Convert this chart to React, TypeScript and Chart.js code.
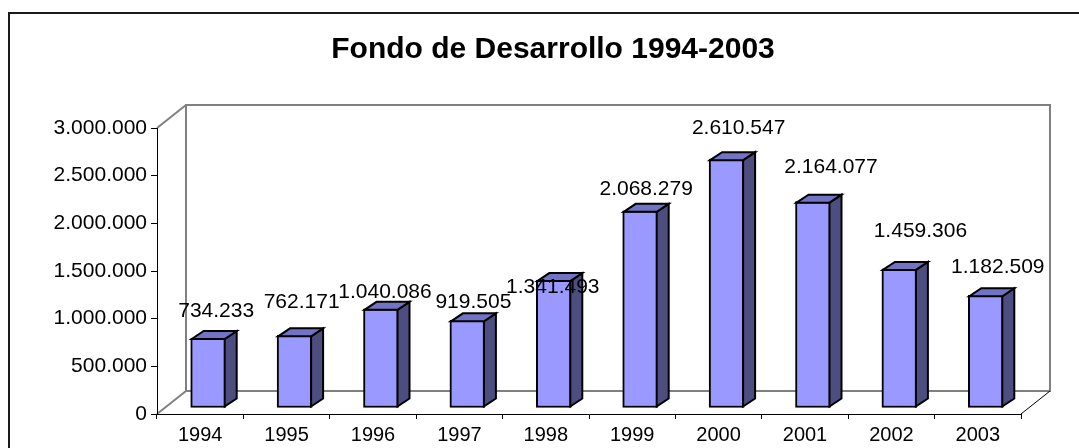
import React, { useEffect, useRef } from 'react';
import { Chart, registerables } from 'chart.js';

Chart.register(...registerables);

// ---- data ----
const categories = ['1994', '1995', '1996', '1997', '1998', '1999', '2000', '2001', '2002', '2003'];
const values = [734233, 762171, 1040086, 919505, 1341493, 2068279, 2610547, 2164077, 1459306, 1182509];
const yMin = 0;
const yMax = 3000000;
const yStep = 500000;
const chartTitle = 'Fondo de Desarrollo 1994-2003';

// ---- label nudges (layout only) ----
const labelNudgeX = [2, 1, -2, 0, -7, 0, 6, 12, 15, 6];
const labelNudgeY = [-19, -25, -9, -10, 15, -14, -23, -26, -30, -20];

// ---- styles ----
const FONT = "'Liberation Sans', Arial, Helvetica, sans-serif";
const WALL_DX = 29;
const WALL_DY = -23;
const BAR_DX = 8;
const BAR_DY = -6;
const DEPTH_DX = 12;
const DEPTH_DY = -8;
const FRONT = '#9999FF';
const SIDE = '#4D4D80';
const TOP = '#7373C6';
const TITLE_CX = 553;
const TITLE_CY = 50;

const fmt = (v: number) => Math.round(v).toString().replace(/\B(?=(\d{3})+(?!\d))/g, '.');

const threeD = {
  id: 'threeD',
  beforeDraw(chart: any) {
    const { ctx, chartArea: a } = chart;
    ctx.save();
    // outer frame
    ctx.strokeStyle = '#1a1a1a';
    ctx.lineWidth = 2;
    ctx.strokeRect(9, 13, 1300, 700);
    // title
    ctx.fillStyle = '#000';
    ctx.font = `bold 30px ${FONT}`;
    ctx.textAlign = 'center';
    ctx.textBaseline = 'middle';
    ctx.fillText(chartTitle, TITLE_CX, TITLE_CY);
    // back wall
    ctx.strokeStyle = '#808080';
    ctx.lineWidth = 2;
    ctx.strokeRect(a.left + WALL_DX, a.top + WALL_DY, a.right - a.left, a.bottom - a.top);
    // left wall top edge
    ctx.beginPath();
    ctx.moveTo(a.left, a.top);
    ctx.lineTo(a.left + WALL_DX, a.top + WALL_DY);
    ctx.stroke();
    // left floor edge
    ctx.beginPath();
    ctx.moveTo(a.left, a.bottom);
    ctx.lineTo(a.left + WALL_DX, a.bottom + WALL_DY);
    ctx.stroke();
    // right floor edge
    ctx.strokeStyle = '#000';
    ctx.lineWidth = 1;
    ctx.beginPath();
    ctx.moveTo(a.right, a.bottom);
    ctx.lineTo(a.right + WALL_DX, a.bottom + WALL_DY);
    ctx.stroke();
    ctx.restore();
  },
  beforeDatasetsDraw(chart: any) {
    chart.ctx.save();
    chart.ctx.translate(BAR_DX, BAR_DY);
  },
  afterDatasetsDraw(chart: any) {
    const ctx = chart.ctx;
    const meta = chart.getDatasetMeta(0);
    ctx.lineWidth = 2;
    ctx.lineJoin = 'miter';
    ctx.strokeStyle = '#000';
    meta.data.forEach((bar: any) => {
      const { x, y, base, width } = bar.getProps(['x', 'y', 'base', 'width'], true);
      const l = x - width / 2 + 1;
      const r = x + width / 2 - 1;
      const t = y + 1;
      const b = base - 1;
      // side face
      ctx.beginPath();
      ctx.moveTo(r, t);
      ctx.lineTo(r + DEPTH_DX, t + DEPTH_DY);
      ctx.lineTo(r + DEPTH_DX, b + DEPTH_DY);
      ctx.lineTo(r, b);
      ctx.closePath();
      ctx.fillStyle = SIDE;
      ctx.fill();
      ctx.stroke();
      // top face
      ctx.beginPath();
      ctx.moveTo(l, t);
      ctx.lineTo(l + DEPTH_DX, t + DEPTH_DY);
      ctx.lineTo(r + DEPTH_DX, t + DEPTH_DY);
      ctx.lineTo(r, t);
      ctx.closePath();
      ctx.fillStyle = TOP;
      ctx.fill();
      ctx.stroke();
    });
    ctx.restore();

    // value labels
    ctx.save();
    ctx.font = `21px ${FONT}`;
    ctx.fillStyle = '#000';
    ctx.textAlign = 'center';
    ctx.textBaseline = 'middle';
    meta.data.forEach((bar: any, i: number) => {
      const { x, y } = bar.getProps(['x', 'y'], true);
      ctx.fillText(
        fmt(values[i]),
        x + BAR_DX + DEPTH_DX / 2 + labelNudgeX[i],
        y + BAR_DY + DEPTH_DY + labelNudgeY[i]
      );
    });
    ctx.restore();
  },
};

export default function App() {
  const ref = useRef<HTMLCanvasElement | null>(null);

  useEffect(() => {
    if (!ref.current) return;
    const chart = new Chart(ref.current, {
      type: 'bar',
      data: {
        labels: categories,
        datasets: [
          {
            data: values,
            backgroundColor: FRONT,
            borderColor: '#000',
            borderWidth: 2,
            borderSkipped: false,
            barThickness: 35,
            clip: false,
          } as any,
        ],
      },
      options: {
        responsive: false,
        animation: false,
        devicePixelRatio: 1,
        layout: { padding: { left: 0, right: 58, top: 128, bottom: 0 } },
        plugins: {
          legend: { display: false },
          tooltip: { enabled: false },
          title: { display: false },
        },
        scales: {
          x: {
            type: 'category',
            offset: true,
            grid: { offset: true, drawOnChartArea: false, drawTicks: true, tickLength: 5, color: '#000' },
            border: { display: true, color: '#000', width: 1 },
            ticks: { color: '#000', font: { family: FONT, size: 20 }, padding: 4, maxRotation: 0, autoSkip: false },
            afterFit: (s: any) => {
              s.height = 34;
            },
          },
          y: {
            min: yMin,
            max: yMax,
            grid: { drawOnChartArea: false, drawTicks: true, tickLength: 6, color: '#000' },
            border: { display: true, color: '#000', width: 1 },
            ticks: {
              stepSize: yStep,
              color: '#000',
              font: { family: FONT, size: 21 },
              padding: 4,
              callback: (v: any) => fmt(Number(v)),
            },
            afterFit: (s: any) => {
              s.width = 157;
            },
          },
        },
      },
      plugins: [threeD],
    } as any);
    return () => chart.destroy();
  }, []);

  return (
    <div style={{ position: 'absolute', left: 0, top: 0, width: 1079, height: 448, background: '#fff' }}>
      <canvas ref={ref} width={1079} height={448} style={{ display: 'block' }} />
    </div>
  );
}
